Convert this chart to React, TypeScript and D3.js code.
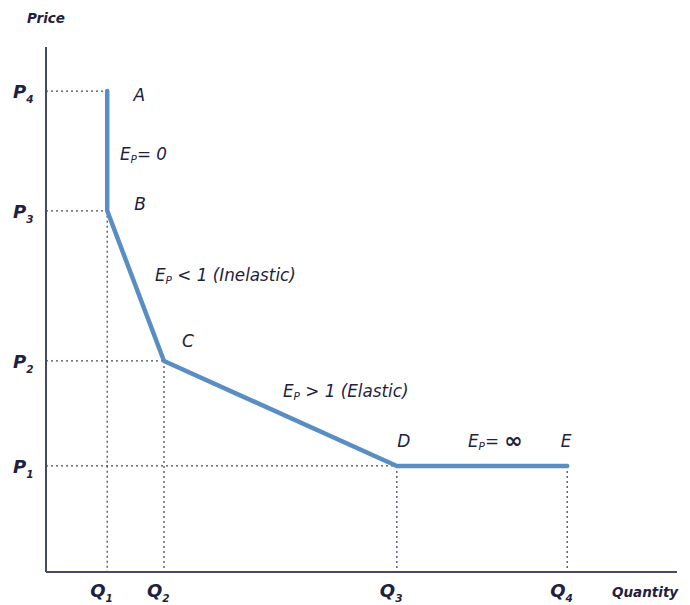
import React from "react";
import * as d3 from "d3";

const priceLevels = [20.2, 40.2, 68.8, 91.6];          // P1..P4
const quantityLevels = [9.7, 18.7, 55.6, 82.6];        // Q1..Q4
const priceNames = ["1", "2", "3", "4"];
const quantityNames = ["1", "2", "3", "4"];
const curvePoints: { q: number; p: number; name: string }[] = [
  { q: 9.7, p: 91.6, name: "A" },
  { q: 9.7, p: 68.8, name: "B" },
  { q: 18.7, p: 40.2, name: "C" },
  { q: 55.6, p: 20.2, name: "D" },
  { q: 82.6, p: 20.2, name: "E" },
];

const W = 690, H = 605;
const x = d3.scaleLinear().domain([0, 100]).range([46, 677]);
const y = d3.scaleLinear().domain([0, 100]).range([572, 47]);

const INK = "#1e2240";
const AXIS = "#474a66";
const BLUE = "#5a8ec3";
const FONT = "'DejaVu Sans', 'Noto Sans', sans-serif";

export default function App() {
  const line = d3.line<{ q: number; p: number }>().x(d => x(d.q)).y(d => y(d.p));
  const hGuides = [
    { p: priceLevels[3], q: curvePoints[0].q },
    { p: priceLevels[2], q: curvePoints[1].q },
    { p: priceLevels[1], q: curvePoints[2].q },
    { p: priceLevels[0], q: curvePoints[3].q },
  ];
  const vGuides = [
    { q: quantityLevels[0], p: curvePoints[1].p },
    { q: quantityLevels[1], p: curvePoints[2].p },
    { q: quantityLevels[2], p: curvePoints[3].p },
    { q: quantityLevels[3], p: curvePoints[4].p },
  ];
  const labelOffsets: Record<string, [number, number]> = {
    A: [32, 10], B: [33, -1], C: [24, -14], D: [7, -19], E: [-1, -19],
  };
  const Ep = (px: number, py: number, rest: React.ReactNode, key: string) => (
    <text key={key} x={px} y={py} fontFamily={FONT} fontStyle="italic" fontSize={16.8} fill={INK}>
      E<tspan fontSize={10.5} dy={3}>P</tspan><tspan dy={-3}>{rest}</tspan>
    </text>
  );
  return (
    <svg width={W} height={H} style={{ position: "absolute", left: 0, top: 0 }}>
      <rect width={W} height={H} fill="#fff" />
      {hGuides.map((g, i) => (
        <line key={"h" + i} x1={x(0)} x2={x(g.q)} y1={y(g.p)} y2={y(g.p)}
          stroke={AXIS} strokeWidth={1.3} strokeDasharray="2,3" />
      ))}
      {vGuides.map((g, i) => (
        <line key={"v" + i} x1={x(g.q)} x2={x(g.q)} y1={y(g.p)} y2={y(0)}
          stroke={AXIS} strokeWidth={1.3} strokeDasharray="2,3" />
      ))}
      <line x1={x(0)} x2={x(0)} y1={y(100)} y2={y(0)} stroke={AXIS} strokeWidth={2} />
      <line x1={x(0)} x2={x(100)} y1={y(0)} y2={y(0)} stroke={AXIS} strokeWidth={2} />
      <path d={line(curvePoints) || ""} fill="none" stroke={BLUE} strokeWidth={4.5}
        strokeLinejoin="round" strokeLinecap="round" />
      {curvePoints.map(pt => {
        const [dx, dy] = labelOffsets[pt.name];
        return (
          <text key={pt.name} x={x(pt.q) + dx} y={y(pt.p) + dy} textAnchor="middle"
            fontFamily={FONT} fontStyle="italic" fontSize={17} fill={INK}>{pt.name}</text>
        );
      })}
      {Ep(120, 160, "= 0", "e0")}
      {Ep(155, 281, " < 1 (Inelastic)", "e1")}
      {Ep(283, 397, " > 1 (Elastic)", "e2")}
      {Ep(468, 447, <>= <tspan fontSize={22} fontStyle="normal" fontWeight={700} dy={1}>{"\u221E"}</tspan></>, "e3")}
      {priceLevels.map((p, i) => (
        <text key={"p" + i} x={13} y={y(p) + 7} fontFamily={FONT} fontStyle="italic"
          fontWeight={700} fontSize={18} fill={INK}>
          P<tspan fontSize={10.5} dy={5}>{priceNames[i]}</tspan>
        </text>
      ))}
      {quantityLevels.map((q, i) => (
        <text key={"q" + i} x={x(q) - 17} y={y(0) + 25} fontFamily={FONT} fontStyle="italic"
          fontWeight={700} fontSize={18} fill={INK}>
          Q<tspan fontSize={10.5} dy={5}>{quantityNames[i]}</tspan>
        </text>
      ))}
      <text x={27} y={23} fontFamily={FONT} fontStyle="italic" fontWeight={700} fontSize={13.5} fill={INK}>Price</text>
      <text x={612} y={597} fontFamily={FONT} fontStyle="italic" fontWeight={700} fontSize={13.5} fill={INK}>Quantity</text>
    </svg>
  );
}
